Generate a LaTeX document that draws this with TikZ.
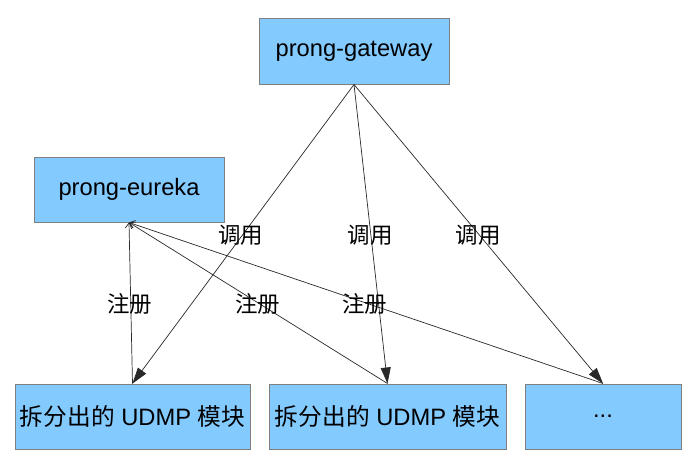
\documentclass[tikz,border=0pt]{standalone}
\usepackage{fontspec}
\setmainfont{Liberation Sans}
\newfontfamily\cjk{Noto Sans CJK SC}
\usetikzlibrary{arrows.meta}
\definecolor{boxfill}{RGB}{131,202,255}
\definecolor{boxline}{RGB}{128,128,128}
\definecolor{linecol}{RGB}{40,40,40}
\begin{document}
\begin{tikzpicture}[x=1pt,y=-1pt,
  box/.style={draw=boxline,line width=1pt,fill=boxfill,minimum height=65pt,inner sep=0pt,
    font=\fontsize{23.7pt}{28pt}\selectfont},
  lbl/.style={inner sep=0pt,font=\fontsize{22.5pt}{26pt}\selectfont\cjk},
  call/.style={draw=linecol,line width=0.7pt,-{Triangle[length=16pt,width=10pt]}},
  reg/.style={draw=linecol,line width=0.7pt,-{Straight Barb[length=5pt,width=8pt]}}]
\useasboundingbox (0,0) rectangle (692,460);
\node[box,minimum width=190pt] (gw) at (354,51.5) {prong-gateway};
\node[box,minimum width=190pt] (eu) at (129,189.5) {prong-eureka};
\node[box,minimum width=235pt] (m1) at (132.5,416.5) {{\cjk 拆分出的} UDMP {\cjk 模块}};
\node[box,minimum width=237pt] (m2) at (387.5,416.5) {{\cjk 拆分出的} UDMP {\cjk 模块}};
\node[box,minimum width=156pt] (m3) at (603,416.5) {...};
\draw[call] (gw.south) -- (m1.north);
\draw[call] (gw.south) -- (m2.north);
\draw[call] (gw.south) -- (m3.north);
\draw[reg] (m1.north) -- (eu.south);
\draw[reg] (m2.north) -- (eu.south);
\draw[reg] (m3.north) -- (eu.south);
\node[lbl] (c1) at (240.5,235) {调用};
\node[lbl] (c2) at (370,235) {调用};
\node[lbl] (c3) at (478,235) {调用};
\node[lbl] (r1) at (129.5,304) {注册};
\node[lbl] (r2) at (257.5,304) {注册};
\node[lbl] (r3) at (364.5,304) {注册};
\end{tikzpicture}
\end{document}
